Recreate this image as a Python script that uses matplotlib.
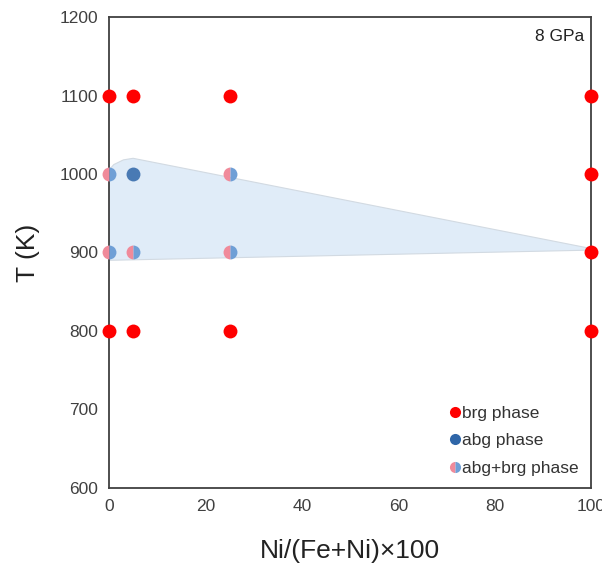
import matplotlib
matplotlib.use("Agg")
import matplotlib.pyplot as plt
from matplotlib.lines import Line2D
from matplotlib.patches import Polygon

plt.rcParams['font.family'] = ['Liberation Sans', 'DejaVu Sans']

# Data
brg_x = [0, 5, 25, 100, 0, 5, 25, 100, 100, 100]
brg_y = [1100, 1100, 1100, 1100, 800, 800, 800, 800, 1000, 900]
abg_x = [5]
abg_y = [1000]
mix_x = [0, 0, 5, 25, 25]
mix_y = [1000, 900, 900, 1000, 900]

# abg+brg coexistence region boundary
region_x = [0, 1, 3, 5, 100, 100, 0]
region_y = [1005, 1012, 1018, 1020, 905, 903, 890]

xticks = [0, 20, 40, 60, 80, 100]
yticks = [600, 700, 800, 900, 1000, 1100, 1200]

fig = plt.figure(figsize=(6.02, 5.68), dpi=100)
ax = fig.add_axes([0.181, 0.141, 0.801, 0.829])

poly = Polygon(list(zip(region_x, region_y)), closed=True,
               facecolor='#e0ecf8', edgecolor='#d2dae2', linewidth=0.8, zorder=1)
ax.add_patch(poly)

RED = '#ff0000'
BLUE = '#2f66a8'
MIXL = '#f08a9a'
MIXR = '#6f9fd6'
ms = 10
ax.plot(brg_x, brg_y, 'o', color=RED, markersize=ms, markeredgewidth=0, zorder=3,
        clip_on=False)
ax.plot(abg_x, abg_y, 'o', color=BLUE, markersize=ms, markeredgewidth=0, zorder=3,
        clip_on=False, alpha=0.85)
ax.plot(mix_x, mix_y, 'o', markersize=ms, markeredgewidth=0, fillstyle='left',
        markerfacecolor=MIXL, markerfacecoloralt=MIXR, zorder=3,
        clip_on=False)

ax.set_xlim(0, 100)
ax.set_ylim(600, 1200)
ax.set_xticks(xticks)
ax.set_yticks(yticks)
ax.tick_params(length=0, labelsize=12.5, colors='#404040', pad=8)
for s in ax.spines.values():
    s.set_color('#404040')
    s.set_linewidth(1.3)

ax.set_xlabel('Ni/(Fe+Ni)×100', fontsize=19, color='#222222', labelpad=18)
ax.set_ylabel('T (K)', fontsize=19, color='#222222', labelpad=14)

ax.text(0.985, 0.975, '8 GPa', transform=ax.transAxes, ha='right', va='top',
        fontsize=12.5, color='#222222')

handles = [
    Line2D([], [], marker='o', ls='', color=RED, markersize=8, markeredgewidth=0),
    Line2D([], [], marker='o', ls='', color=BLUE, markersize=8, markeredgewidth=0),
    Line2D([], [], marker='o', ls='', markersize=8, markeredgewidth=0, fillstyle='left',
           markerfacecolor=MIXL, markerfacecoloralt=MIXR),
]
ax.legend(handles, ['brg phase', 'abg phase', 'abg+brg phase'], loc='lower right',
          frameon=False, fontsize=12.5, handletextpad=0.0, handlelength=0.8,
          labelspacing=0.7, borderaxespad=0.3, labelcolor='#333333',
          bbox_to_anchor=(1.0, 0.0))

fig.savefig('out.png', dpi=100)
